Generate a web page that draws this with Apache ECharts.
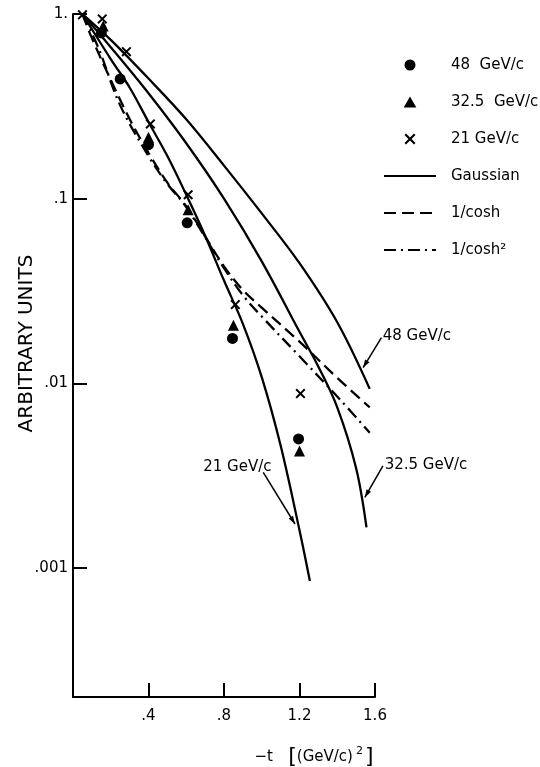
<!DOCTYPE html>
<html><head><meta charset="utf-8">
<script src="https://cdn.jsdelivr.net/npm/echarts@6/dist/echarts.min.js"></script>
<style>html,body{margin:0;padding:0;background:#fff}#c{width:540px;height:767px}</style>
</head><body><div id="c"></div>
<script>
const FONT = "'DejaVu Sans', sans-serif";

// ---- axis ticks ----
const xTicks = [0.4, 0.8, 1.2, 1.6];
const xTickLabels = ['.4', '.8', '1.2', '1.6'];
const yTicks = [0.001, 0.01, 0.1, 1];
const yTickLabels = ['.001', '.01', '.1', '1.'];

// ---- measured points ----
const t48 = [0.15, 0.25, 0.40, 0.605, 0.845, 1.195];
const v48 = [0.79, 0.445, 0.196, 0.074, 0.0175, 0.0050];
const t325 = [0.16, 0.40, 0.61, 0.85, 1.2];
const v325 = [0.86, 0.215, 0.087, 0.0206, 0.0043];
const t21 = [0.05, 0.155, 0.283, 0.41, 0.61, 0.86, 1.205];
const v21 = [0.99, 0.94, 0.625, 0.254, 0.105, 0.0267, 0.0088];

// ---- fitted curves ----
const gT21 = [0.05, 0.2, 0.3, 0.4, 0.5, 0.6, 0.7, 0.8, 0.9, 1.0, 1.1, 1.2, 1.255];
const gV21 = [1.0, 0.57, 0.40, 0.26, 0.17, 0.105, 0.063, 0.036, 0.021, 0.0108, 0.0046, 0.0016, 0.00085];
const gT325 = [0.05, 0.2, 0.4, 0.6, 0.8, 1.0, 1.2, 1.3, 1.4, 1.5, 1.555];
const gV325 = [1.0, 0.661, 0.372, 0.1995, 0.1, 0.0457, 0.019, 0.0123, 0.00741, 0.00347, 0.00166];
const gT48 = [0.05, 0.2, 0.4, 0.6, 0.8, 1.0, 1.2, 1.4, 1.572];
const gV48 = [1.0, 0.724, 0.447, 0.269, 0.151, 0.0832, 0.0447, 0.0214, 0.00933];
const coshT = [0.05, 0.1, 0.2, 0.3, 0.4, 0.5, 0.6, 0.7, 0.8, 0.9, 1.0, 1.2, 1.4, 1.572];
const coshV = [1.0, 0.74, 0.44, 0.27, 0.177, 0.122, 0.091, 0.0625, 0.043, 0.032, 0.0257, 0.0168, 0.0107, 0.0074];
const cosh2T = [0.05, 0.136, 0.25, 0.4, 0.5, 0.6, 0.8, 0.9, 1.0, 1.2, 1.413, 1.572];
const cosh2V = [1.0, 0.65, 0.32, 0.17, 0.12, 0.09, 0.042, 0.030, 0.023, 0.014, 0.0082, 0.0054];

// ---- annotations (data coordinates) ----
const annoLabels = ['48 GeV/c', '32.5 GeV/c', '21 GeV/c'];
const annoTextAt = [[1.641, 0.0180], [1.651, 0.00360], [0.690, 0.00350]];
const arrowFrom = [[1.634, 0.01766], [1.642, 0.00357], [1.008, 0.00329]];
const arrowTo = [[1.537, 0.01216], [1.546, 0.00241], [1.176, 0.00173]];

const legendNames = ['48  GeV/c', '32.5  GeV/c', '21 GeV/c', 'Gaussian', '1/cosh', '1/cosh\u00B2'];

function zip(a, b) { return a.map((v, i) => [v, b[i]]); }
function lookup(vals, labels, v) {
  let best = 0;
  for (let i = 1; i < vals.length; i++) if (Math.abs(vals[i] - v) < Math.abs(vals[best] - v)) best = i;
  return Math.abs(vals[best] - v) < 1e-6 * Math.max(1, Math.abs(v)) + 1e-12 ? labels[best] : '';
}

const crossPath = 'path://M0,1.4L1.4,0L5,3.6L8.6,0L10,1.4L6.4,5L10,8.6L8.6,10L5,6.4L1.4,10L0,8.6L3.6,5Z';
const triPath = 'path://M5,0L10,8.66L0,8.66Z';
const black = '#000';
const clear = 'rgba(0,0,0,0)';
const curve = (name, t, v, type) => ({
  type: 'line', name, data: zip(t, v), symbol: 'none', smooth: 0.35,
  lineStyle: { color: black, width: 2.3, type: type },
  itemStyle: { color: black }, z: 2, silent: true
});

const chart = echarts.init(document.getElementById('c'), null, { renderer: 'canvas' });
chart.setOption({
  animation: false,
  backgroundColor: '#fff',
  textStyle: { fontFamily: FONT, color: black },
  grid: { left: 73, right: 165, top: 14, bottom: 70, containLabel: false, outerBoundsMode: 'none' },
  legend: {
    orient: 'vertical', left: 378, top: 52, itemWidth: 52, itemHeight: 11, itemGap: 21,
    selectedMode: false,
    data: legendNames.map((n, i) => i < 3 ? { name: n } :
      { name: n, itemStyle: { color: clear, borderColor: clear, borderWidth: 0 } }),
    textStyle: { fontFamily: FONT, fontSize: 15, color: black, padding: [0, 0, 0, 10], lineHeight: 16 }
  },
  xAxis: {
    type: 'value', min: 0, max: 1.6,
    name: '{a|\u2212t}    {b|[}{a|(GeV/c)}{s|2}{b|]}',
    nameLocation: 'middle', nameGap: 49, nameMoveOverlap: false,
    nameTextStyle: {
      padding: [0, 0, 0, 180], color: black,
      rich: {
        a: { fontFamily: FONT, fontSize: 15, color: black },
        b: { fontFamily: FONT, fontSize: 22, color: black },
        s: { fontFamily: FONT, fontSize: 11, color: black, verticalAlign: 'top', padding: [0, 2, 8, 3] }
      }
    },
    axisLine: { show: true, onZero: false, lineStyle: { color: black, width: 2 } },
    splitLine: { show: false },
    axisTick: { show: true, customValues: xTicks, inside: true, length: 14, lineStyle: { color: black, width: 2 } },
    axisLabel: { customValues: xTicks, margin: 12, fontSize: 15, color: black, fontFamily: FONT,
      formatter: v => lookup(xTicks, xTickLabels, v) }
  },
  yAxis: {
    type: 'log', logBase: 10, min: 0.0002, max: 1,
    name: 'ARBITRARY UNITS', nameLocation: 'middle', nameGap: 36, nameRotate: 90, nameMoveOverlap: false,
    nameTextStyle: { fontFamily: FONT, fontSize: 20, color: black, padding: [0, 0, 0, 24] },
    axisLine: { show: true, onZero: false, lineStyle: { color: black, width: 2 } },
    splitLine: { show: false },
    axisTick: { show: true, customValues: yTicks, inside: true, length: 14, lineStyle: { color: black, width: 2 } },
    axisLabel: { customValues: yTicks, margin: 5, fontSize: 15, color: black, fontFamily: FONT,
      formatter: v => lookup(yTicks, yTickLabels, v) }
  },
  series: [
    { type: 'scatter', name: legendNames[0], data: zip(t48, v48), symbol: 'circle', symbolSize: 11,
      itemStyle: { color: black, opacity: 1 }, z: 5 },
    { type: 'scatter', name: legendNames[1], data: zip(t325, v325), symbol: triPath, symbolSize: 11,
      itemStyle: { color: black, opacity: 1 }, z: 5 },
    { type: 'scatter', name: legendNames[2], data: zip(t21, v21), symbol: crossPath, symbolSize: 10,
      itemStyle: { color: black, opacity: 1 }, z: 5 },
    curve('Gaussian', gT48, gV48, 'solid'),
    curve('Gaussian', gT325, gV325, 'solid'),
    curve('Gaussian', gT21, gV21, 'solid'),
    curve(legendNames[4], coshT, coshV, [12, 6]),
    curve(legendNames[5], cosh2T, cosh2V, [12, 5, 2, 5])
  ]
});

// annotations placed through the chart's scales
const g = [];
for (let i = 0; i < annoLabels.length; i++) {
  const p = chart.convertToPixel({ gridIndex: 0 }, annoTextAt[i]);
  g.push({ type: 'text', x: p[0], y: p[1], style: { text: annoLabels[i], font: '15px ' + FONT, fill: black,
    textAlign: 'left', textVerticalAlign: 'middle' }, z: 10 });
  const a = chart.convertToPixel({ gridIndex: 0 }, arrowFrom[i]);
  const b = chart.convertToPixel({ gridIndex: 0 }, arrowTo[i]);
  g.push({ type: 'line', shape: { x1: a[0], y1: a[1], x2: b[0], y2: b[1] }, style: { stroke: black, lineWidth: 1.5 }, z: 10 });
  const dx = b[0] - a[0], dy = b[1] - a[1], L = Math.hypot(dx, dy);
  const ux = dx / L, uy = dy / L, nx = -uy, ny = ux;
  const hl = 8, hw = 2.6;
  g.push({ type: 'polygon', shape: { points: [[b[0], b[1]],
    [b[0] - ux * hl + nx * hw, b[1] - uy * hl + ny * hw],
    [b[0] - ux * hl - nx * hw, b[1] - uy * hl - ny * hw]] }, style: { fill: black }, z: 10 });
}
chart.setOption({ graphic: g });
</script>
</body></html>
